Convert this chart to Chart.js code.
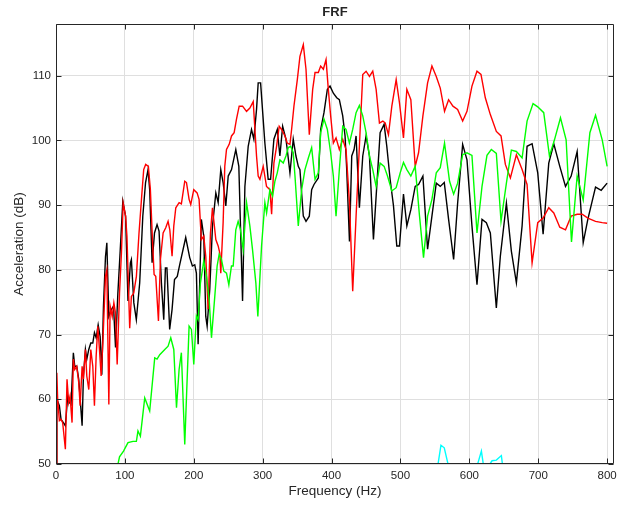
<!DOCTYPE html>
<html>
<head>
<meta charset="utf-8">
<script src="https://cdn.jsdelivr.net/npm/chart.js@4.4.1/dist/chart.umd.min.js"></script>
<style>
  body { margin: 0; background: #fff; }
</style>
</head>
<body>
<canvas id="frfChart" width="618" height="505"></canvas>
<script>
// frequency (Hz) / level (dB) pairs
const blackHz = [0, 1.2, 4.9, 7.3, 10.7, 13.6, 17, 19.4, 21.8, 25.2, 27.2, 30.1, 33, 37.9, 39.8, 42.7, 44.7, 47.6, 50.5, 53.4, 55.8, 58.3, 61.2, 64.1, 66.5, 68.9, 71.8, 73.8, 76.7, 80, 83.5, 86.4, 89.8, 93.2, 97, 101, 104.5, 108, 109.4, 113, 116.6, 121.5, 126, 130, 133.6, 136, 139.5, 143, 146.7, 149.6, 153, 156.4, 158.8, 161, 165, 168.5, 172, 176, 179.6, 188.3, 194.1, 198, 201.4, 203.8, 206.3, 211, 214.5, 217.4, 219.4, 223.2, 227.1, 232, 235.4, 239.2, 242.6, 246.5, 250, 254.8, 261, 265.4, 270.8, 274.2, 279, 283.8, 287.2, 291.1, 293.5, 297, 303.2, 308, 311.5, 316.3, 321.2, 325, 329, 333.8, 335.7, 339.6, 342, 344.4, 348.3, 351.7, 354.1, 359, 362.9, 367.7, 371.1, 374.5, 380.8, 384.2, 389, 393.9, 397.8, 402.6, 407.5, 411.3, 416.2, 419.6, 422, 426, 429.3, 432.7, 435.6, 440.4, 445.3, 450.1, 455, 460.8, 465.6, 470.5, 476.3, 480.2, 485, 489.9, 494.7, 498.6, 504.4, 509.3, 515.1, 521.4, 526.3, 532.6, 539.4, 545.7, 552, 557.8, 563.6, 569.9, 577.2, 583, 590.3, 596.6, 603.8, 611.1, 618.4, 624.7, 630.5, 639.2, 645, 653.8, 661, 668.3, 676.6, 683.8, 691.1, 699.3, 707.1, 715.3, 722.6, 731.3, 739.6, 747.8, 756.5, 765.3, 772, 783.2, 791.4, 800];
const blackDb = [30, 60, 59, 56.9, 56.4, 55.9, 60.5, 59.5, 59.2, 67.2, 65.1, 65.1, 63.1, 55.9, 63.6, 67.7, 66.2, 67.7, 68.7, 68.7, 70.3, 69.5, 71.5, 69.7, 63.8, 74.4, 82, 84.2, 72.8, 73.8, 74.4, 68, 76.4, 83, 90.6, 88.3, 75.2, 81.1, 81.6, 74.9, 72.3, 78, 88.3, 93.5, 95.5, 92.4, 81.1, 85.7, 87, 86, 78, 72.3, 80.3, 80.3, 70.8, 73.9, 78.5, 79, 80.8, 85, 81.9, 80.6, 80.8, 79.5, 68.5, 87.8, 85.2, 72.8, 71.3, 77, 86.7, 91.9, 90.4, 95.5, 93.5, 89.9, 94.5, 95.5, 98.6, 96, 75.2, 92.9, 99.1, 101.7, 100.2, 104.8, 108.9, 108.9, 99.6, 94, 94, 100.2, 101.7, 97.6, 102.2, 100.2, 98.6, 95, 97.6, 100.2, 97.6, 96, 95.5, 88.3, 87.5, 88.3, 92.4, 93.2, 94.2, 101.7, 104.3, 107.9, 108.4, 107.3, 106.6, 106.3, 103.8, 100.7, 95.5, 84.4, 97.6, 98.6, 100.7, 89.6, 97.6, 100.7, 97.6, 84.7, 92.9, 101.2, 102.5, 99.1, 94, 89.9, 83.7, 83.7, 91.7, 86.8, 89.3, 92.9, 93.2, 94.5, 83.2, 88.3, 93.4, 92.9, 93.5, 87.8, 81.6, 90.3, 99.4, 97, 86.8, 77.7, 87.8, 87.3, 85.7, 74.1, 82.1, 90.3, 82.9, 78, 86.8, 99.1, 99.5, 95, 85.5, 96.5, 99.5, 96, 92.9, 94.5, 98.3, 84.2, 87.8, 92.8, 92.3, 93.4];

const redHz = [0, 1.2, 2.4, 4.9, 7.3, 9.7, 13.6, 16, 18.4, 20.4, 23.3, 25.2, 27.2, 30.1, 33, 35, 37.9, 39.8, 42.7, 44.7, 47.6, 50.5, 53.4, 55.8, 58.3, 60.7, 63.1, 65.5, 68, 71.8, 73.8, 76.7, 78.6, 81.6, 84, 86.4, 88.8, 92.2, 95, 97.5, 101, 103, 107, 109.4, 112.8, 116.7, 120.5, 124.4, 127.3, 130.2, 134.1, 137, 140, 142.4, 144.8, 148.7, 151.6, 155.5, 159.3, 162.7, 165.2, 168.5, 171, 173.9, 178.7, 182, 186.9, 189.4, 193.2, 195.6, 200, 204.8, 207.7, 211, 214.5, 217.4, 220.8, 224.2, 227.1, 232, 235.4, 237.8, 239.2, 242.6, 245, 247.5, 251.4, 254.8, 258.6, 262, 265.9, 270.8, 276.6, 281.4, 286.3, 291.1, 293.5, 296, 300.8, 305.6, 310.5, 313, 316.3, 320.2, 324, 327.5, 332.3, 335.7, 339.6, 342, 345.4, 350.3, 354.1, 359, 362.9, 367.7, 372.6, 376, 380.8, 384.2, 388.1, 392, 395.3, 398.7, 402.6, 406.5, 411.3, 416.2, 421, 426, 430.7, 435.6, 440.4, 445.3, 450.1, 455, 459.8, 464.7, 469.5, 474.4, 477.8, 482.6, 487.5, 493.8, 498.6, 504.4, 509.3, 515.1, 521.4, 526.3, 532.6, 539.4, 545.7, 552, 557.8, 564, 569.9, 576.2, 583, 590.3, 596.6, 603.8, 611.1, 616.9, 623.2, 630.5, 639.2, 646, 652.3, 659.6, 668.3, 676.6, 683.8, 691.1, 699.3, 707.1, 715.3, 722.6, 731.3, 739.6, 747.8, 756.5, 763.8, 772, 783.2, 792.9, 800];
const redDb = [30, 64.1, 60, 56.7, 56.9, 56.4, 52.3, 63.1, 59.5, 60.5, 56.4, 66.2, 64.6, 65.1, 62.6, 59, 65.1, 63.1, 67.7, 63.6, 61.5, 67.7, 65.1, 59, 66.7, 71.3, 67.7, 63.6, 68.7, 79, 80, 59.2, 74.4, 72.8, 74.9, 73.3, 65.4, 76.4, 82.6, 90.3, 88.3, 85.2, 71, 75.9, 76.4, 79, 85.7, 91.4, 95.5, 96.3, 96, 92.4, 84.7, 79.3, 79, 72.1, 81.6, 85.7, 86.5, 87.5, 86.2, 82.1, 86.8, 89.6, 90.4, 90.2, 93.7, 93.5, 90.9, 90.1, 92.4, 91.9, 90.9, 84.7, 85.2, 82.1, 73.9, 85.7, 89.6, 84.7, 83.7, 82.6, 79.5, 87.3, 96, 98.6, 99.4, 100.7, 101.2, 103.3, 105.3, 105.3, 104.5, 105, 106, 97.6, 94.5, 94, 96, 92.9, 92.4, 88.6, 96.5, 99.1, 102.2, 101.7, 100.7, 99.6, 99.4, 101.7, 105.3, 109.4, 113, 114.8, 111, 100.9, 107.9, 110.5, 110.5, 111.5, 111, 112.5, 107.9, 103.8, 99.6, 100.4, 98.6, 100.2, 98.6, 90.4, 76.7, 88.3, 99.1, 110.2, 110.7, 109.9, 110.7, 107.9, 102.7, 103, 102.7, 100.9, 105.3, 109.4, 105.8, 100.4, 107.9, 106.3, 96, 98.1, 103.8, 108.9, 111.5, 109.9, 108.1, 104.5, 106.3, 105.3, 104.8, 103, 104.5, 108.4, 110.7, 110.2, 106.6, 104, 101.4, 100.7, 96.3, 94.2, 97.8, 95.5, 93.2, 81.1, 87.3, 88, 89.6, 88.8, 86.6, 86.2, 88.3, 88.6, 88.6, 88, 87.5, 87.3, 87.2];

const greenHz = [0, 60, 88, 92.2, 98, 104.5, 111.8, 116.7, 119, 122.5, 128.8, 136, 143.3, 146.7, 150.6, 157.9, 162.7, 166.6, 171, 174.9, 178.7, 182, 186.9, 193.2, 196.6, 200, 203.8, 206.3, 209.7, 214.5, 218.4, 222.3, 225.7, 230.5, 233.9, 236.8, 240.2, 243.6, 247.5, 250.9, 254.7, 257.2, 261, 264.4, 267.8, 271.7, 276.6, 281.4, 285.3, 290.1, 293, 298.4, 303.2, 305.7, 310.5, 314.4, 317.8, 321.2, 325, 329.9, 333.8, 337.2, 340.6, 344.4, 346.9, 351.7, 356.6, 361.4, 366.3, 371.1, 376, 380.8, 384.2, 389, 393.9, 398.7, 402.6, 406.5, 411.3, 416.2, 421, 425.9, 430.7, 435.6, 440.4, 445.3, 450.1, 455, 459.8, 464.7, 470.5, 476.3, 481.2, 487.5, 493.8, 499.6, 504.4, 509.3, 515.1, 521.4, 527.7, 533.5, 539.4, 545.7, 552, 557.8, 564, 571.3, 577.2, 583, 590.3, 596.6, 603.8, 611.1, 618.4, 625.6, 631.9, 639.2, 646, 653.8, 661, 668.3, 676.6, 683.8, 692.5, 699.3, 708, 716.3, 723.6, 732.3, 740.5, 748.3, 756.5, 765.3, 775, 783.2, 792.9, 800];
const greenDb = [30, 40, 49, 51.1, 52, 53.3, 53.5, 53.5, 55.1, 54.3, 60.2, 58.2, 66.4, 66.2, 66.9, 67.7, 68.2, 69.5, 67.7, 58.7, 64.6, 67.2, 53, 71.3, 70.8, 65.4, 72.9, 72.3, 78, 81.4, 79, 75.4, 69.5, 75.9, 80.6, 82.4, 81.6, 79.8, 79.5, 77.7, 80.6, 80.6, 86.2, 87.5, 86.2, 83.1, 90.4, 86.8, 83.1, 78, 72.8, 83.7, 90.4, 88.8, 92.4, 91.4, 93.7, 95, 97, 96.5, 97.6, 98.9, 99.1, 98.1, 94.5, 86.8, 92.4, 95.5, 97.3, 98.9, 94, 95, 101.2, 103.3, 101.7, 98.1, 94.5, 88.3, 95.5, 102.2, 101.7, 99.6, 101.7, 104.3, 105.4, 103.8, 101.2, 97.6, 95.5, 92.9, 96.5, 96, 94.5, 92.2, 92.7, 95, 96.6, 95.5, 94.5, 96, 88.3, 81.9, 88.3, 90.9, 95, 95.8, 99.6, 93.7, 91.7, 93.4, 97.8, 98.1, 97.7, 85.7, 92.9, 97.7, 98.6, 98, 87.5, 93.4, 98.5, 98.3, 97.3, 103, 105.7, 105.2, 104.3, 97.6, 100.1, 103.5, 100.1, 84.3, 94.5, 90.8, 101.2, 103.9, 100.1, 96];

const cyanHz = [0, 540, 554, 558.8, 563.6, 569.9, 590, 611, 617.5, 620.8, 626, 630.5, 633, 639.2, 646.5, 648.5, 670, 800];
const cyanDb = [20, 43, 49.6, 52.9, 52.5, 49.6, 44, 49.6, 52, 49.6, 48, 50.1, 50.5, 50.6, 51.3, 49.6, 44, 35];

const xTicks = [0, 100, 200, 300, 400, 500, 600, 700, 800];
const yTicks = [50, 60, 70, 80, 90, 100, 110];

const toPoints = (hz, db) => hz.map((x, i) => ({ x: x, y: db[i] }));

const axisColor = '#262626';
const fontFamily = '"Liberation Sans", Arial, Helvetica, sans-serif';

// box around the axes with inward tick marks on all four sides
const axesBox = {
    id: 'axesBox',
    afterDraw(chart) {
        const { ctx, chartArea: a, scales: { x, y } } = chart;
        const l = Math.round(a.left) + 0.5, r = Math.round(a.right) - 0.5;
        const t = Math.round(a.top) + 0.5, b = Math.round(a.bottom) - 0.5;
        ctx.save();
        ctx.strokeStyle = axisColor;
        ctx.lineWidth = 1;
        ctx.beginPath();
        ctx.rect(l, t, r - l, b - t);
        xTicks.forEach(v => {
            const px = Math.round(x.getPixelForValue(v)) + 0.5;
            ctx.moveTo(px, b); ctx.lineTo(px, b - 5);
            ctx.moveTo(px, t); ctx.lineTo(px, t + 5);
        });
        yTicks.forEach(v => {
            const py = Math.round(y.getPixelForValue(v)) + 0.5;
            ctx.moveTo(l, py); ctx.lineTo(l + 5, py);
            ctx.moveTo(r, py); ctx.lineTo(r - 5, py);
        });
        ctx.stroke();
        ctx.restore();
    }
};

const line = (label, hz, db, color) => ({
    label: label,
    data: toPoints(hz, db),
    borderColor: color,
    backgroundColor: color,
    borderWidth: 1.4,
    pointRadius: 0,
    tension: 0,
    fill: false
});

const ctx = document.getElementById('frfChart').getContext('2d');
const frfChart = new Chart(ctx, {
    type: 'line',
    data: {
        // first dataset is drawn on top
        datasets: [
            line('cyan', cyanHz, cyanDb, '#00ffff'),
            line('green', greenHz, greenDb, '#00ff00'),
            line('red', redHz, redDb, '#ff0000'),
            line('black', blackHz, blackDb, '#000000')
        ]
    },
    options: {
        responsive: false,
        animation: false,
        events: [],
        layout: { padding: { left: 0, right: 4, top: 0, bottom: 0 } },
        plugins: {
            legend: { display: false },
            tooltip: { enabled: false },
            title: {
                display: true,
                text: 'FRF',
                fullSize: false,
                color: axisColor,
                font: { family: fontFamily, size: 13, weight: 'bold', lineHeight: 1.2 },
                padding: { top: 5, bottom: 3.4 }
            }
        },
        scales: {
            x: {
                type: 'linear',
                min: 0,
                max: 810,
                afterFit: s => { s.height = 41; s.paddingLeft = 0; s.paddingRight = 0; },
                afterBuildTicks: s => { s.ticks = xTicks.map(v => ({ value: v })); },
                ticks: {
                    maxRotation: 0,
                    autoSkip: false,
                    padding: 5,
                    color: axisColor,
                    font: { family: fontFamily, size: 11.5 }
                },
                grid: { color: '#dfdfdf', lineWidth: 1, drawTicks: false },
                border: { display: false },
                title: {
                    display: true,
                    text: 'Frequency (Hz)',
                    color: axisColor,
                    font: { family: fontFamily, size: 13.5, lineHeight: 1.2 },
                    padding: { top: 0, bottom: 6 }
                }
            },
            y: {
                min: 50,
                max: 118,
                afterFit: s => { s.width = 56; s.paddingTop = 0; s.paddingBottom = 0; },
                afterBuildTicks: s => { s.ticks = yTicks.map(v => ({ value: v })); },
                ticks: {
                    autoSkip: false,
                    padding: 5,
                    color: axisColor,
                    font: { family: fontFamily, size: 11.5 }
                },
                grid: { color: '#dfdfdf', lineWidth: 1, drawTicks: false },
                border: { display: false },
                title: {
                    display: true,
                    text: 'Acceleration (dB)',
                    color: axisColor,
                    font: { family: fontFamily, size: 13.5, lineHeight: 1.2 },
                    padding: { top: 11, bottom: 0 }
                }
            }
        }
    },
    plugins: [axesBox]
});
</script>
</body>
</html>
